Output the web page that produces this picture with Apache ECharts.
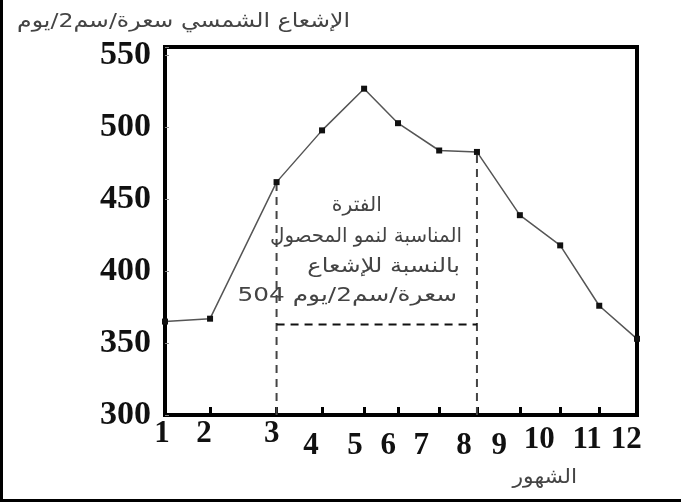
<!DOCTYPE html>
<html>
<head>
<meta charset="utf-8">
<script src="https://cdn.jsdelivr.net/npm/echarts@6/dist/echarts.min.js"></script>
<style>
html,body{margin:0;padding:0;background:#fff;}
#c{width:681px;height:504px;}
</style>
</head>
<body>
<div id="c"></div>
<script>
// ---- data ----
var months = ['1','2','3','4','5','6','7','8','9','10','11','12'];
// horizontal place of each month on the (unevenly spaced) month axis
var monthX = [1, 2.05, 3.6, 4.66, 5.64, 6.43, 7.39, 8.27, 9.27, 10.21, 11.12, 12];
// where each month's tick label sits on the same axis
var labelX = [1, 1.91, 3.49, 4.4, 5.43, 6.2, 6.97, 7.97, 8.79, 9.72, 10.84, 11.75];
var labelRow = ['d','a','a','b','b','b','b','b','b','c','c','c'];
var radiation = [365, 367, 462, 498, 527, 503, 484, 483, 439, 418, 376, 353];
var yTicks = [300, 350, 400, 450, 500, 550];
var periodStart = 2;   // index of month 3
var periodEnd = 7;     // index of month 8
var periodLevel = 363;
var yTitle = 'الإشعاع الشمسي سعرة/سم2/يوم';
var xTitle = 'الشهور';
var noteLines = ['الفترة', 'المناسبة لنمو المحصول', 'بالنسبة للإشعاع', '504 سعرة/سم2/يوم'];

var chart = echarts.init(document.getElementById('c'), null, {renderer: 'canvas'});

var seriesData = monthX.map(function (x, i) { return [x, radiation[i]]; });
var vLeft = [[monthX[periodStart], yTicks[0]], [monthX[periodStart], radiation[periodStart]]];
var vRight = [[monthX[periodEnd], yTicks[0]], [monthX[periodEnd], radiation[periodEnd]]];
var hLine = [[monthX[periodStart], periodLevel], [monthX[periodEnd], periodLevel]];

var dashStyle = {color: '#444', width: 2, type: [8, 6]};
var arabicFont = "'DejaVu Sans', 'Noto Sans', sans-serif";
var serif = "'Liberation Serif', serif";

function arText(x, y, txt, align, sx) {
  return {type: 'text', x: x, y: y, scaleX: sx,
    style: {text: txt, font: '20px ' + arabicFont, fill: '#444', align: align, verticalAlign: 'middle'}};
}
function lab(extra) {
  var s = {fontFamily: serif, fontWeight: 'bold', fontSize: 31, lineHeight: 31, color: '#111'};
  for (var k in extra) { s[k] = extra[k]; }
  return s;
}

var option = {
  backgroundColor: '#fff',
  animation: false,
  grid: {
    left: 165, right: 44, top: 47, bottom: 89,
    show: true, borderColor: '#000', borderWidth: 4
  },
  xAxis: {
    type: 'value', min: 1, max: 12,
    axisLine: {show: true, lineStyle: {color: '#000', width: 4}},
    splitLine: {show: false},
    axisTick: {
      show: true, inside: true, length: 8, customValues: monthX.slice(1, 11),
      lineStyle: {color: '#000', width: 3}
    },
    axisLabel: {
      show: true, customValues: labelX, margin: 3,
      fontFamily: serif, fontWeight: 'bold', fontSize: 31, color: '#111',
      formatter: function (v) {
        var best = 0, d = 1e9;
        for (var i = 0; i < labelX.length; i++) {
          var dd = Math.abs(labelX[i] - v);
          if (dd < d) { d = dd; best = i; }
        }
        return '{' + labelRow[best] + '|' + months[best] + '}';
      },
      rich: {
        a: lab({}),
        d: lab({padding: [0, 6, 0, 0]}),
        b: lab({padding: [24, 0, 0, 0]}),
        c: lab({padding: [12, 0, 0, 0]})
      }
    }
  },
  yAxis: {
    type: 'value', min: 300, max: 556, interval: 50,
    axisLine: {show: true, lineStyle: {color: '#000', width: 4}},
    splitLine: {show: false},
    axisTick: {show: true, inside: true, length: 4, lineStyle: {color: '#888', width: 1}},
    axisLabel: {
      show: true, margin: 14,
      fontFamily: serif, fontWeight: 'bold', fontSize: 34, color: '#111',
      formatter: function (v) { return yTicks.indexOf(v) >= 0 ? String(v) : ''; }
    }
  },
  series: [
    {
      type: 'line', data: seriesData, z: 5,
      lineStyle: {color: '#555', width: 1.5},
      symbol: 'rect', symbolSize: 6,
      itemStyle: {color: '#111'}
    },
    {type: 'line', data: vLeft, symbol: 'none', lineStyle: dashStyle, z: 3},
    {type: 'line', data: vRight, symbol: 'none', lineStyle: dashStyle, z: 3},
    {type: 'line', data: hLine, symbol: 'none', lineStyle: {color: '#111', width: 2, type: [8, 6]}, z: 3}
  ],
  graphic: [
    {type: 'line', shape: {x1: 1.5, y1: 0, x2: 1.5, y2: 502}, style: {stroke: '#000', lineWidth: 3}},
    {type: 'line', shape: {x1: 0, y1: 500.5, x2: 681, y2: 500.5}, style: {stroke: '#000', lineWidth: 3}},
    arText(350, 22, yTitle, 'right', 1.18),
    arText(577, 478, xTitle, 'right', 1.1),
    arText(382, 206, noteLines[0], 'right', 1.02),
    arText(462, 237, noteLines[1], 'right', 0.99),
    arText(460, 267, noteLines[2], 'right', 1.2),
    arText(457, 296, noteLines[3], 'right', 1.24)
  ]
};
chart.setOption(option);
</script>
</body>
</html>
